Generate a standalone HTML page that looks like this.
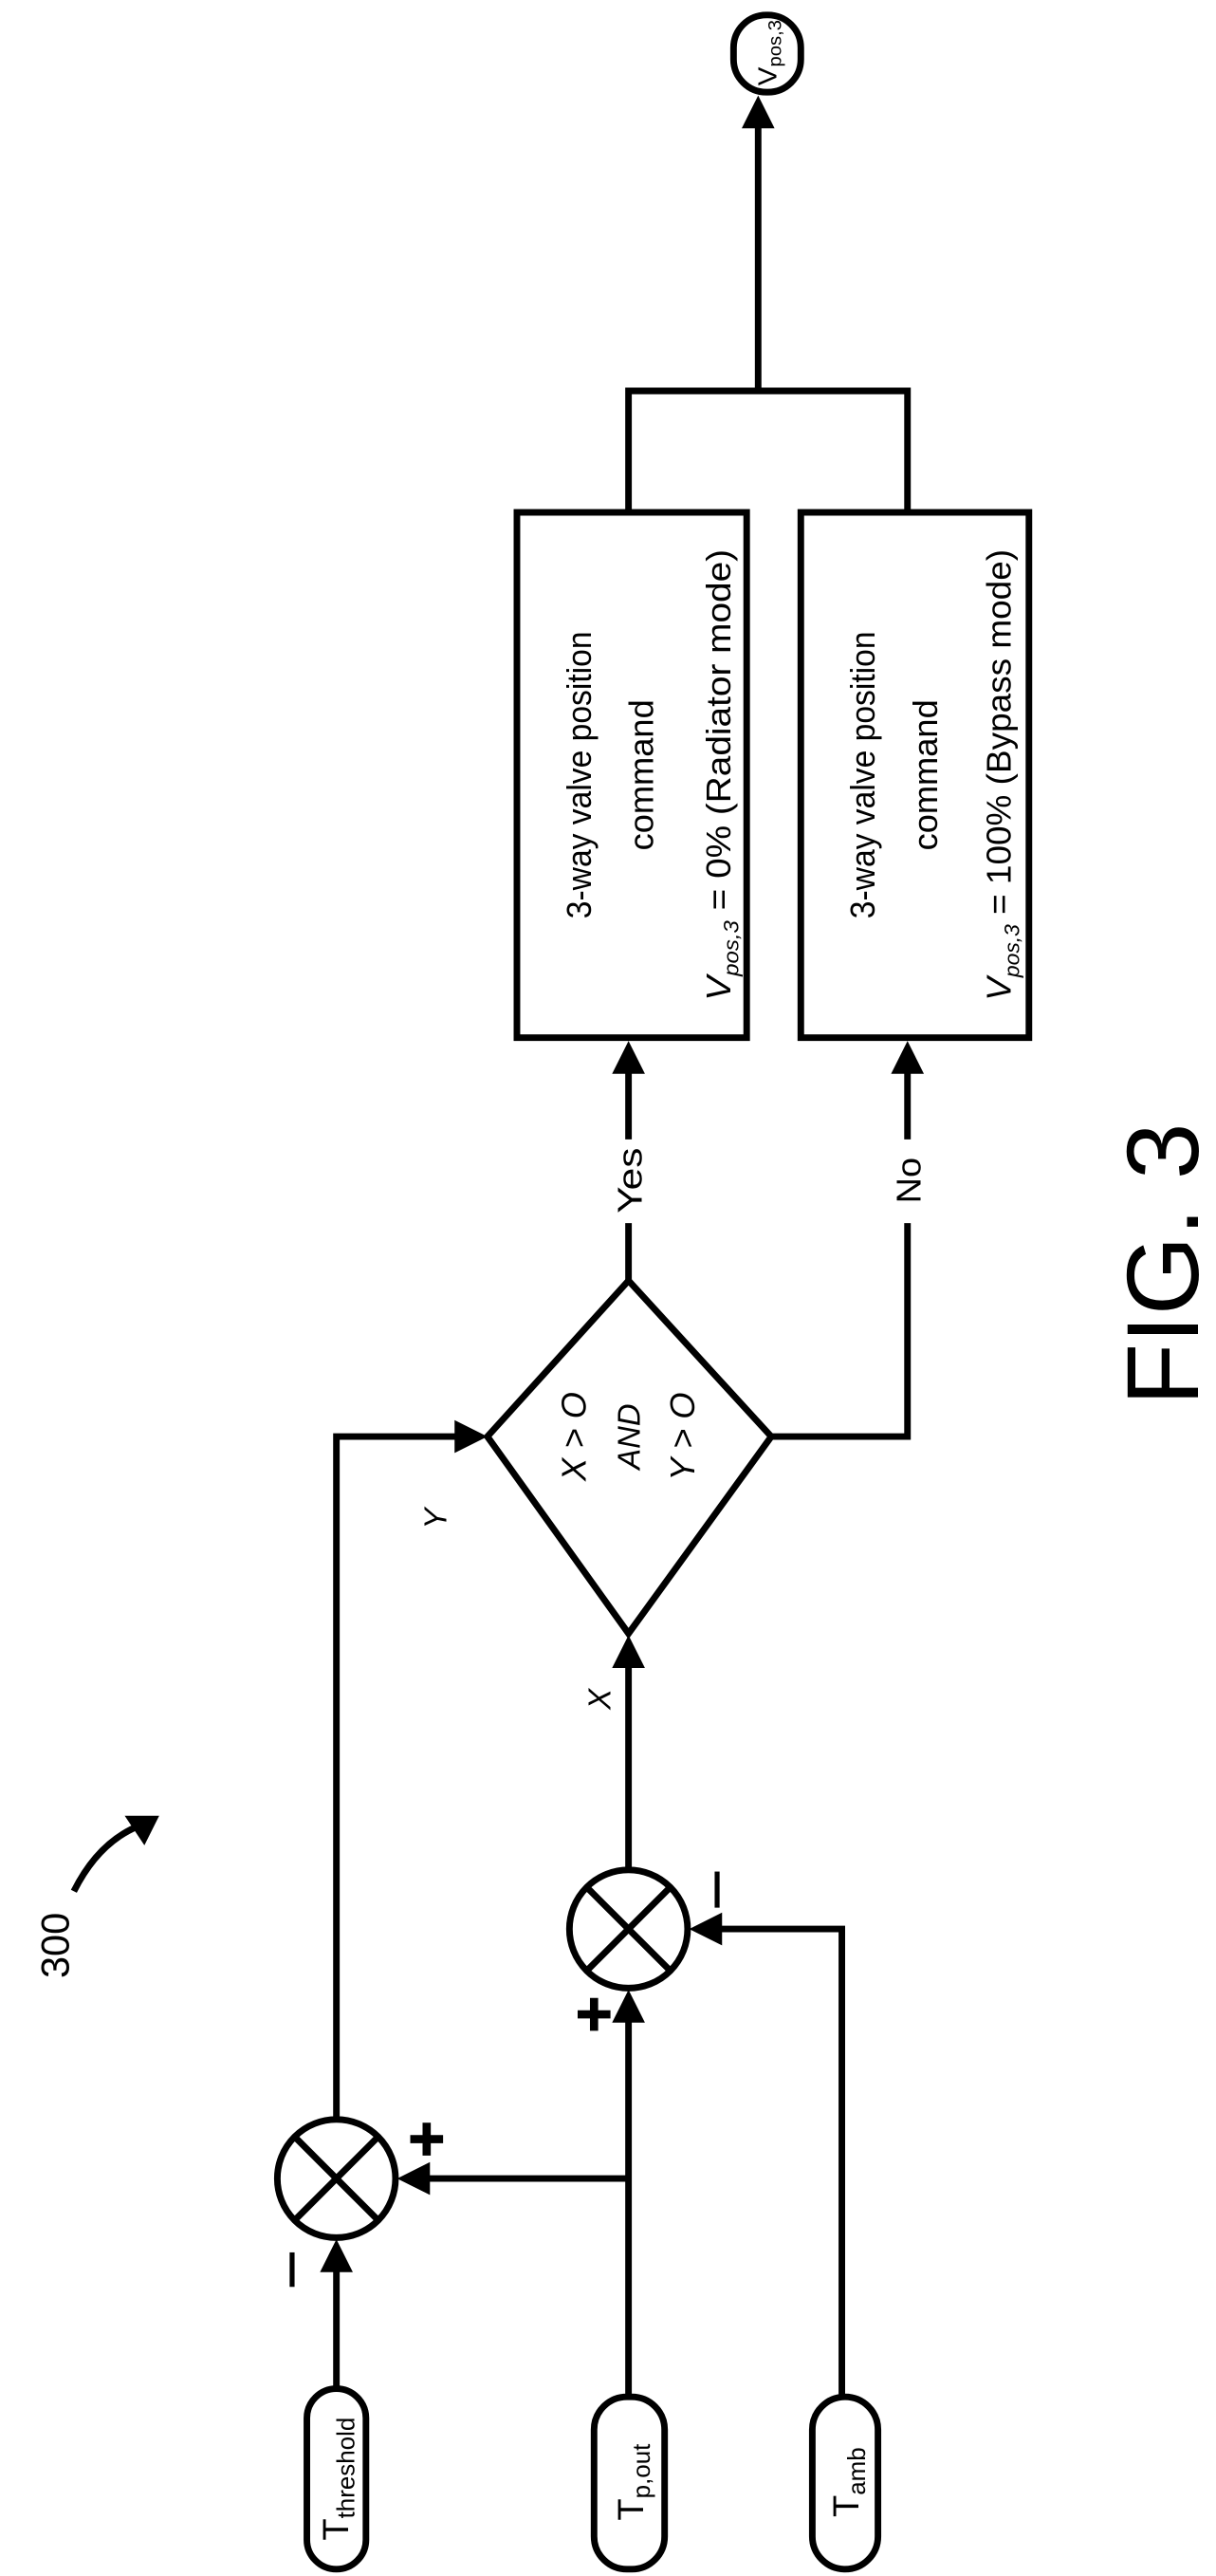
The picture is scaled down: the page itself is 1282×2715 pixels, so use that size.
<!DOCTYPE html>
<html><head><meta charset="utf-8"><style>
html,body{margin:0;padding:0;background:#fff}
svg{display:block}
text{font-family:"Liberation Sans",sans-serif;fill:#000}
</style></head><body>
<svg width="1282" height="2715" viewBox="0 0 741 1569" xmlns="http://www.w3.org/2000/svg">
<g stroke="#000" stroke-width="4" fill="none">
<rect x="447" y="9" width="41" height="47" rx="20" ry="20"/>
<line x1="462" y1="238" x2="462" y2="70"/>
<path d="M462,58 L452,78 L472,78 z" fill="#000" stroke="none"/>
<polyline points="383,312 383,238 553,238 553,312"/>
<rect x="315" y="312" width="140" height="320"/>
<rect x="488" y="312" width="139" height="320"/>
<line x1="383" y1="780" x2="383" y2="745"/><line x1="383" y1="694" x2="383" y2="650"/>
<path d="M383,634 L373,654 L393,654 z" fill="#000" stroke="none"/>
<polyline points="470,875 553,875 553,745"/><line x1="553" y1="694" x2="553" y2="650"/>
<path d="M553,634 L543,654 L563,654 z" fill="#000" stroke="none"/>
<polygon points="383,780 470,875 383,995 297,875"/>
<polyline points="205,1291 205,875 280,875"/>
<path d="M297,875 L277,865 L277,885 z" fill="#000" stroke="none"/>
<line x1="383" y1="1139" x2="383" y2="1012"/>
<path d="M383,996 L373,1016 L393,1016 z" fill="#000" stroke="none"/>
<circle cx="383" cy="1175" r="36"/>
<line x1="358" y1="1150" x2="408" y2="1200"/><line x1="408" y1="1150" x2="358" y2="1200"/>
<circle cx="205" cy="1327" r="36"/>
<line x1="180" y1="1302" x2="230" y2="1352"/><line x1="230" y1="1302" x2="180" y2="1352"/>
<line x1="383" y1="1460" x2="383" y2="1230"/>
<path d="M383,1212 L373,1232 L393,1232 z" fill="#000" stroke="none"/>
<line x1="383" y1="1327" x2="258" y2="1327"/>
<path d="M242,1327 L262,1317 L262,1337 z" fill="#000" stroke="none"/>
<polyline points="513,1460 513,1175 436,1175"/>
<path d="M420,1175 L440,1165 L440,1185 z" fill="#000" stroke="none"/>
<line x1="205" y1="1455" x2="205" y2="1380"/>
<path d="M205,1364 L195,1384 L215,1384 z" fill="#000" stroke="none"/>
<rect x="187" y="1455" width="36" height="110" rx="18" ry="18"/>
<rect x="362" y="1460" width="43" height="105" rx="20" ry="20"/>
<rect x="495" y="1460" width="40" height="105" rx="20" ry="20"/>
<path d="M45,1152 Q60,1122 85,1112"/>
</g>
<path d="M97,1106 L76,1106 L88,1124 z" fill="#000"/>
<g stroke="#000" stroke-width="5">
<line x1="250" y1="1303" x2="270" y2="1303"/><line x1="260" y1="1293" x2="260" y2="1313"/>
<line x1="352" y1="1227" x2="372" y2="1227"/><line x1="362" y1="1217" x2="362" y2="1237"/>
</g>
<g stroke="#000" stroke-width="3">
<line x1="178" y1="1372" x2="178" y2="1393"/>
<line x1="437" y1="1140" x2="437" y2="1162"/>
</g>
<g font-size="21" text-anchor="middle">
<text transform="translate(360,472) rotate(-90)" textLength="175" lengthAdjust="spacingAndGlyphs">3-way valve position</text>
<text transform="translate(398,472) rotate(-90)" textLength="92" lengthAdjust="spacingAndGlyphs">command</text>
<text transform="translate(445,472) rotate(-90)" textLength="275" lengthAdjust="spacingAndGlyphs"><tspan font-style="italic">V<tspan font-size="13" dy="5">pos,3</tspan></tspan><tspan dy="-5"> = 0% (Radiator mode)</tspan></text>
<text transform="translate(533,472) rotate(-90)" textLength="175" lengthAdjust="spacingAndGlyphs">3-way valve position</text>
<text transform="translate(571,472) rotate(-90)" textLength="92" lengthAdjust="spacingAndGlyphs">command</text>
<text transform="translate(616,472) rotate(-90)" textLength="275" lengthAdjust="spacingAndGlyphs"><tspan font-style="italic">V<tspan font-size="13" dy="5">pos,3</tspan></tspan><tspan dy="-5"> = 100% (Bypass mode)</tspan></text>
<text transform="translate(391,719) rotate(-90)" textLength="40" lengthAdjust="spacingAndGlyphs">Yes</text>
<text transform="translate(561,719) rotate(-90)" textLength="28" lengthAdjust="spacingAndGlyphs">No</text>
<text transform="translate(357,875) rotate(-90)" font-style="italic">X &gt; O</text>
<text transform="translate(390,875) rotate(-90)" font-style="italic" font-size="19">AND</text>
<text transform="translate(423,875) rotate(-90)" font-style="italic">Y &gt; O</text>
<text transform="translate(272,925) rotate(-90)" font-style="italic" font-size="19">Y</text>
<text transform="translate(372,1035) rotate(-90)" font-style="italic" font-size="19">X</text>
<text transform="translate(42,1185) rotate(-90)" font-size="24">300</text>
<text transform="translate(473,32) rotate(-90)" font-size="16" textLength="40" lengthAdjust="spacingAndGlyphs">V<tspan font-size="11" dy="3">pos,3</tspan></text>
<text transform="translate(212,1510) rotate(-90)" font-size="22">T<tspan font-size="15" dy="4">threshold</tspan></text>
<text transform="translate(392,1512) rotate(-90)" font-size="22">T<tspan font-size="15" dy="4">p,out</tspan></text>
<text transform="translate(523,1512) rotate(-90)" font-size="22">T<tspan font-size="15" dy="4">amb</tspan></text>
<text transform="translate(730,770) rotate(-90)" font-size="62">FIG. 3</text>
</g>
</svg>
</body></html>
